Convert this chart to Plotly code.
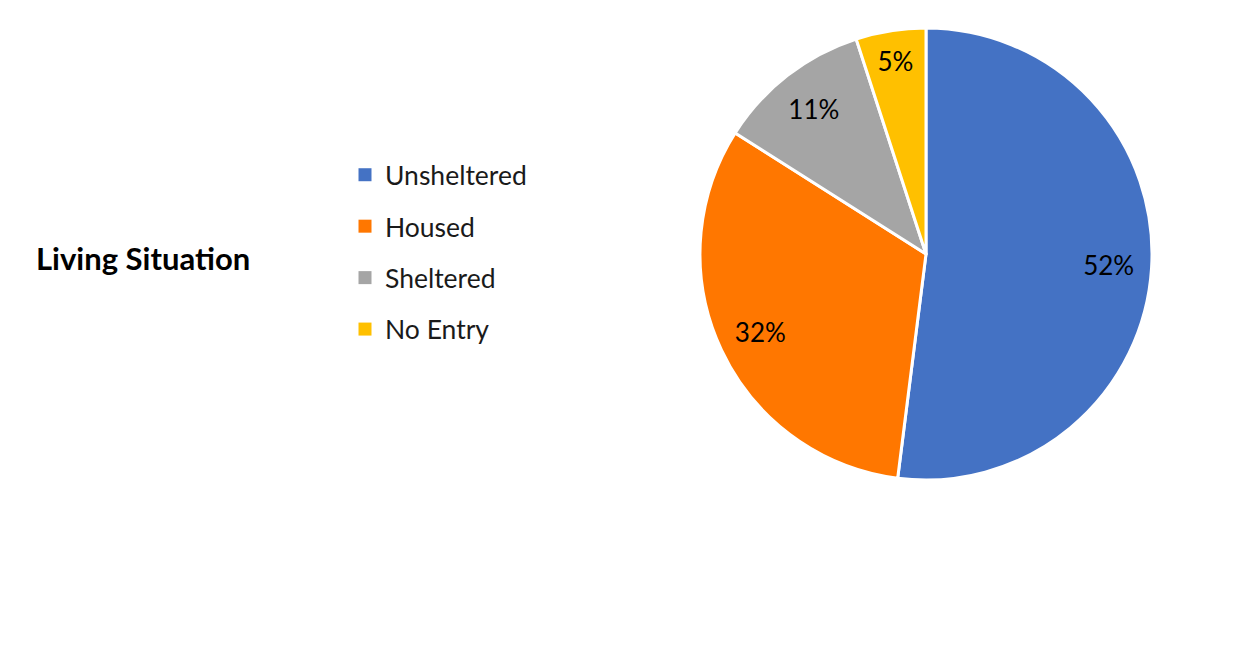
import plotly.graph_objects as go

labels = ["Unsheltered", "Housed", "Sheltered", "No Entry"]
values = [52, 32, 11, 5]
colors = ["#4472C4", "#FF7700", "#A5A5A5", "#FFC000"]
title_text = "Living Situation"

W, H = 1241, 652
OFF = 8  # page body margin of the html page
dom = dict(x=[(700 - OFF) / W, (1152 - OFF) / W], y=[1 - (480 - OFF) / H, 1 - (28 - OFF) / H])

fig = go.Figure()
# the coloured pie
fig.add_trace(go.Pie(
    labels=labels,
    values=values,
    sort=False,
    direction="clockwise",
    rotation=0,
    marker=dict(colors=colors, line=dict(color="white", width=3)),
    textinfo="none",
    domain=dom,
    showlegend=False,
    hoverinfo="label+percent",
))
# transparent ring carrying the percentage labels (places them toward the rim)
fig.add_trace(go.Pie(
    labels=labels,
    values=values,
    sort=False,
    direction="clockwise",
    rotation=0,
    hole=0.62,
    marker=dict(colors=["rgba(0,0,0,0)"] * len(values), line=dict(width=0)),
    texttemplate="%{percent:.0%}",
    textposition="inside",
    insidetextorientation="horizontal",
    textfont=dict(family="Lato, Carlito, Calibri, sans-serif", size=26, color="black"),
    domain=dom,
    showlegend=False,
    hoverinfo="skip",
))

# legend entries (one per category, drawn from the same arrays)
for lab, col in zip(labels, colors):
    fig.add_trace(go.Scatter(
        x=[None], y=[None], mode="markers", name=lab, legendgroup=lab,
        marker=dict(symbol="square", size=13, color=col),
        showlegend=True,
    ))

fig.update_layout(
    width=W, height=H,
    margin=dict(l=0, r=0, t=0, b=0),
    paper_bgcolor="white", plot_bgcolor="white",
    xaxis=dict(visible=False), yaxis=dict(visible=False),
    legend=dict(
        x=337 / W, y=1 - 143 / H, xanchor="left", yanchor="top",
        font=dict(family="Lato, Carlito, Calibri, sans-serif", size=26.5, color="#1a1a1a"),
        tracegroupgap=14, bgcolor="rgba(0,0,0,0)",
    ),
    annotations=[dict(
        text="<b>" + title_text + "</b>", x=26 / W, y=1 - 250 / H,
        xref="paper", yref="paper", xanchor="left", yanchor="middle",
        showarrow=False,
        font=dict(family="Lato, sans-serif", size=31, color="black"),
    )],
)

fig.write_html("out.html")
